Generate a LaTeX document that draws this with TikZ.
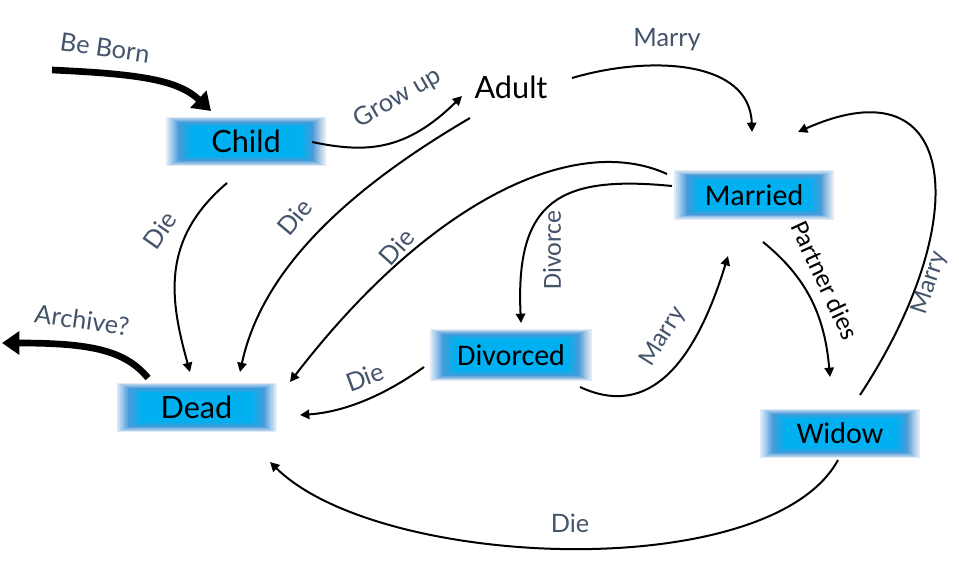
\documentclass[tikz,border=0pt]{standalone}
\usepackage{fontspec}
\setmainfont{Carlito}
\newfontfamily\gillfont{Lato}
\newfontfamily\califont{Carlito}
\usetikzlibrary{arrows.meta,calc}
\definecolor{lbl}{HTML}{44546A}
\definecolor{gpale}{HTML}{E2EBF5}
\definecolor{gmid}{HTML}{4A9AD8}
\definecolor{gcyan}{HTML}{00B0F0}
\tikzset{
 glow/.style={minimum width=120pt, minimum height=37pt, inner sep=0pt, text=black,
   font=\califont\fontsize{22.5}{24}\selectfont,
   path picture={
     \foreach \c [count=\i from 0] in {gpale,gmid!17!gpale,gmid!33!gpale,gmid!50!gpale,gmid!67!gpale,gmid!83!gpale,gmid,gcyan!15!gmid,gcyan!30!gmid,gcyan!45!gmid,gcyan!60!gmid,gcyan!75!gmid,gcyan!90!gmid,gcyan}{
       \fill[\c] ([shift={(\i*1.45pt,\i*0.6pt)}]path picture bounding box.south west)
         rectangle ([shift={(-\i*1.45pt,-\i*0.6pt)}]path picture bounding box.north east);
     }
   }},
 gillglow/.style={glow, font=\gillfont\fontsize{23}{24}\selectfont},
 plain/.style={inner sep=0pt, text=black, font=\gillfont\fontsize{23}{24}\selectfont},
 edge/.style={line width=1.5pt, -{Triangle[length=7pt,width=7pt]}},
 bigedge/.style={line width=5pt, -{Triangle[length=13pt,width=17pt]}},
 lab/.style={text=lbl, font=\gillfont\fontsize{19}{20}\selectfont, inner sep=0pt},
 clab/.style={text=lbl, font=\califont\fontsize{19.5}{20}\selectfont, inner sep=0pt},
}
\begin{document}
\begin{tikzpicture}[x=0.75pt,y=-0.75pt]
\useasboundingbox (0,0) rectangle (959,560);
% nodes
\node[gillglow] (child) at (246,141.5) {Child};
\node[gillglow] (dead) at (196.5,407.5) {Dead};
\node[plain] (adult) at (511,87) {Adult};
\node[glow] (married) at (754,195) {Married};
\node[glow, minimum width=121.5pt, minimum height=39pt] (divorced) at (511,355) {Divorced};
\node[glow] (widow) at (840,433.5) {Widow};
\coordinate (bornstart) at (52,70);
\coordinate (archiveend) at (2,343);
% thick arrows
\draw[bigedge] (bornstart) .. controls (140,74) and (178,80) .. ([shift={(-35,-30.5)}]child.center);
\draw[bigedge] ([shift={(-48.5,-29.5)}]dead.center) .. controls (125,350) and (90,343) .. (archiveend);
% thin arrows
\draw[edge] ([shift={(66,0.5)}]child.center) .. controls (365,153) and (405,152) .. ([shift={(-49,9)}]adult.center);
\draw[edge] ([shift={(-19,41.5)}]child.center) .. controls (160,240) and (170,300) .. ([shift={(-6.5,-35.5)}]dead.center);
\draw[edge] ([shift={(-41,31)}]adult.center) .. controls (330,200) and (260,280) .. ([shift={(43.5,-35.5)}]dead.center);
\draw[edge] ([shift={(-87,-21)}]married.center) .. controls (575,132) and (430,200) .. ([shift={(93.5,-25.5)}]dead.center);
\draw[edge] ([shift={(-82,-9)}]married.center) .. controls (560,175) and (515,200) .. ([shift={(10,-32)}]divorced.center);
\draw[edge] ([shift={(69,32)}]divorced.center) .. controls (640,415) and (690,380) .. ([shift={(-26,61)}]married.center);
\draw[edge] ([shift={(-87,12)}]divorced.center) .. controls (385,395) and (345,412) .. ([shift={(103.5,7.5)}]dead.center);
\draw[edge] ([shift={(61,-9)}]adult.center) .. controls (650,55) and (750,60) .. ([shift={(-2,-63)}]married.center);
\draw[edge] ([shift={(9,47)}]married.center) .. controls (810,280) and (825,320) .. ([shift={(-10,-56.5)}]widow.center);
\draw[edge] ([shift={(20,-38.5)}]widow.center) .. controls (975,220) and (960,60) .. ([shift={(44,-63)}]married.center);
\draw[edge] ([shift={(-2,26.5)}]widow.center) .. controls (770,585) and (380,570) .. ([shift={(73.5,54.5)}]dead.center);
% labels
\node[lab, rotate=-8] (lborn) at (105,48) {Be Born};
\node[lab, rotate=-8] (larch) at (82,320) {Archive?};
\node[lab, rotate=30] (lgrow) at (398,98) {Grow up};
\node[lab, rotate=55] (ldie1) at (160,230) {Die};
\node[lab, rotate=50] (ldie2) at (295,217) {Die};
\node[lab, rotate=48] (ldie3) at (397,247) {Die};
\node[lab, rotate=20] (ldie4) at (365,377) {Die};
\node[clab, rotate=90] (ldiv) at (552,250) {Divorce};
\node[clab, rotate=58] (lmar2) at (663,337) {Marry};
\node[lab] (lmar1) at (667,40) {Marry};
\node[clab, text=black, rotate=-65] (lpart) at (825,280) {Partner dies};
\node[clab, rotate=72] (lmar3) at (930,283) {Marry};
\node[lab] (ldie5) at (570,523) {Die};
\end{tikzpicture}
\end{document}
